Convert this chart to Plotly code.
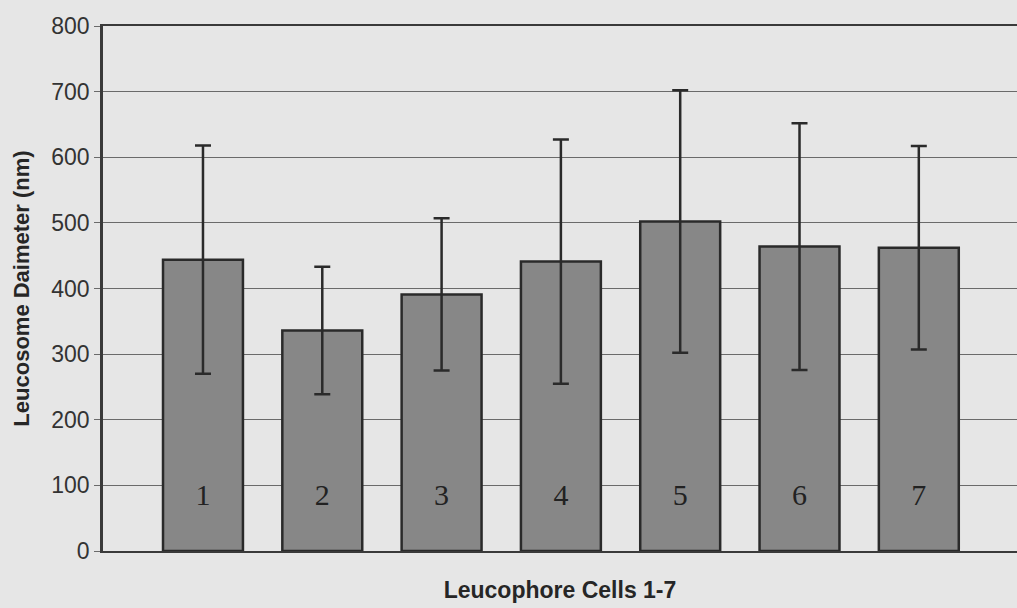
import plotly.graph_objects as go

cells = [1, 2, 3, 4, 5, 6, 7]
cell_labels = ["1", "2", "3", "4", "5", "6", "7"]
diameter = [444, 336, 391, 441, 502, 464, 462]
err = [174, 97, 116, 186, 200, 188, 155]
y_ticks = [0, 100, 200, 300, 400, 500, 600, 700, 800]
label_y = 82

fig = go.Figure()
fig.add_trace(go.Bar(
    x=cells, y=diameter, width=0.67,
    marker=dict(color="#878787", line=dict(color="#2a2a2a", width=2.5)),
    error_y=dict(type="data", array=err, visible=True, color="#2a2a2a",
                 thickness=2.5, width=8),
    showlegend=False,
))
fig.add_trace(go.Scatter(
    x=cells, y=[label_y] * len(cells), mode="text", text=cell_labels,
    textfont=dict(family="Liberation Serif, Times New Roman, serif", size=30, color="#222"),
    showlegend=False, hoverinfo="skip",
))

fig.update_layout(
    width=1017, height=608,
    margin=dict(l=103, r=0, t=26, b=57),
    paper_bgcolor="#e6e6e6", plot_bgcolor="#e6e6e6",
    font=dict(family="Liberation Sans, Arial, sans-serif", color="#333"),
    xaxis=dict(
        range=[0.162, 7.823], showticklabels=False, showgrid=False, zeroline=False,
        showline=True, linecolor="#3a3a3a", linewidth=2, mirror=True, ticks="",
        title=dict(text="<b>Leucophore Cells 1-7</b>", font=dict(size=23, color="#262626"),
                   standoff=30),
    ),
    yaxis=dict(
        range=[0, 800], tickvals=y_ticks, showgrid=True, gridcolor="#6a6a6a", gridwidth=1,
        zeroline=False, showline=True, linecolor="#3a3a3a", linewidth=2.5,
        ticks="outside", ticklen=6, tickcolor="#6a6a6a", tickwidth=1,
        tickfont=dict(size=23, color="#333"),
        title=dict(text="<b>Leucosome Daimeter (nm)</b>", font=dict(size=22, color="#262626"),
                   standoff=16),
    ),
)
fig.write_html(
    "out.html",
    config={"displayModeBar": False},
    post_script="document.body.style.margin='0';document.body.style.background='#e6e6e6';",
)
